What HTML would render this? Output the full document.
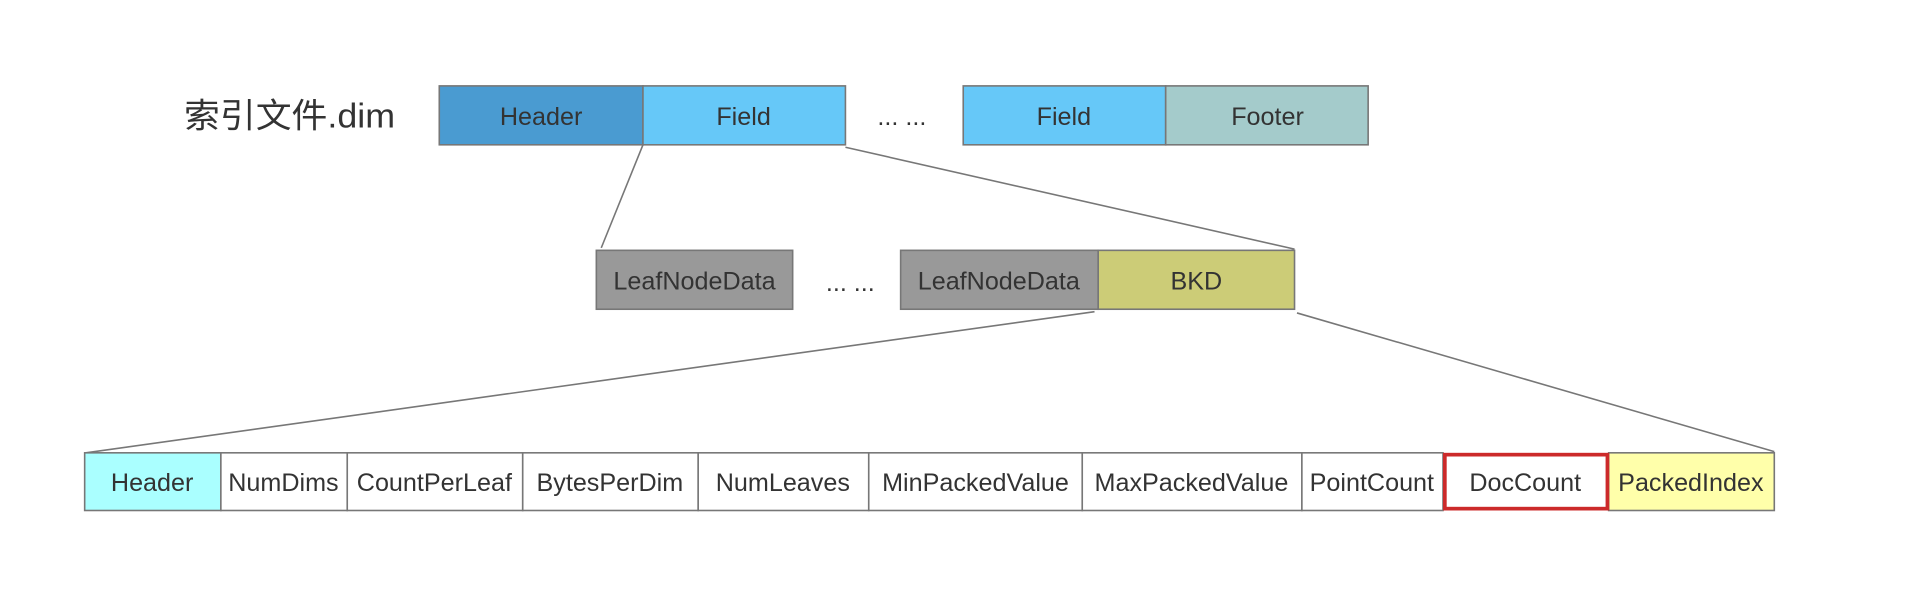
<!DOCTYPE html>
<html><head><meta charset="utf-8"><style>
html,body{margin:0;padding:0;background:#fff;width:1924px;height:604px;overflow:hidden}
svg text{font-family:"Liberation Sans","Noto Sans CJK SC",sans-serif;fill:#333}
</style></head><body>
<svg width="1924" height="604" viewBox="0 0 1568 492.2" preserveAspectRatio="none" xmlns="http://www.w3.org/2000/svg">
<g stroke="#777" stroke-width="1.3" fill="none">
<line x1="524" y1="118" x2="490" y2="202"/>
<line x1="689" y1="120" x2="1055" y2="203"/>
<line x1="892" y1="254" x2="70" y2="369"/>
<line x1="1057" y1="255" x2="1446" y2="368"/>
</g>
<text x="150" y="104" font-size="28" textLength="172" lengthAdjust="spacingAndGlyphs">索引文件.dim</text>
<g stroke="#777" stroke-width="1.3">
<rect x="358" y="70" width="166" height="48" fill="#4a9bd1"/>
<rect x="524" y="70" width="165" height="48" fill="#66c8f8"/>
<rect x="785" y="70" width="165" height="48" fill="#66c8f8"/>
<rect x="950" y="70" width="165" height="48" fill="#a4cbcb"/>
<rect x="486" y="204" width="160" height="48" fill="#999"/>
<rect x="734" y="204" width="161" height="48" fill="#999"/>
<rect x="895" y="204" width="160" height="48" fill="#cccc77"/>
<rect x="69" y="369" width="111" height="47" fill="#aaffff"/>
<rect x="180" y="369" width="103" height="47" fill="#fff"/>
<rect x="283" y="369" width="143" height="47" fill="#fff"/>
<rect x="426" y="369" width="143" height="47" fill="#fff"/>
<rect x="569" y="369" width="139" height="47" fill="#fff"/>
<rect x="708" y="369" width="174" height="47" fill="#fff"/>
<rect x="882" y="369" width="179" height="47" fill="#fff"/>
<rect x="1061" y="369" width="115" height="47" fill="#fff"/>
<rect x="1311" y="369" width="135" height="47" fill="#ffffaa"/>
</g>
<rect x="1177.5" y="370.5" width="132.5" height="44" fill="#fff" stroke="#cc2a2a" stroke-width="3"/>
<g font-size="20.5" text-anchor="middle">
<text x="441" y="102">Header</text>
<text x="606" y="102">Field</text>
<text x="735" y="102">... ...</text>
<text x="867" y="102">Field</text>
<text x="1033" y="102">Footer</text>
<text x="566" y="236">LeafNodeData</text>
<text x="693" y="237">... ...</text>
<text x="814" y="236">LeafNodeData</text>
<text x="975" y="236">BKD</text>
<text x="124" y="400">Header</text>
<text x="231" y="400">NumDims</text>
<text x="354" y="400">CountPerLeaf</text>
<text x="497" y="400">BytesPerDim</text>
<text x="638" y="400">NumLeaves</text>
<text x="795" y="400">MinPackedValue</text>
<text x="971" y="400">MaxPackedValue</text>
<text x="1118" y="400">PointCount</text>
<text x="1243" y="400">DocCount</text>
<text x="1378" y="400">PackedIndex</text>
</g>
</svg>
</body></html>
